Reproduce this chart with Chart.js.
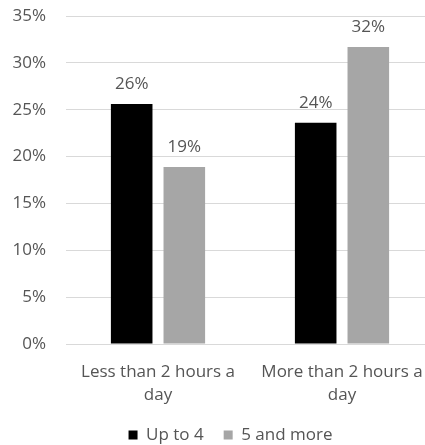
<!DOCTYPE html>
<html>
<head>
<meta charset="utf-8">
<script src="https://cdn.jsdelivr.net/npm/chart.js@4"></script>
<style>
  html, body { margin: 0; padding: 0; background: #ffffff; overflow: hidden; }
  #wrap { position: relative; width: 461px; height: 445px; }
</style>
</head>
<body>
<div id="wrap"><canvas id="chart" width="461" height="445"></canvas></div>
<script>
// Screen time per day, split by household size
const categories = [['Less than 2 hours a', 'day'], ['More than 2 hours a', 'day']];
const seriesNames = ['Up to 4', '5 and more'];
const upToFour = [25.6, 23.6];
const fiveAndMore = [18.9, 31.7];
const yTicks = [0, 5, 10, 15, 20, 25, 30, 35];

const textColor = '#555555';
const fontFamily = '"Open Sans", "Noto Sans", sans-serif';
const fontSize = 17;

// Percentage labels printed above each bar
const barValueLabels = {
  id: 'barValueLabels',
  afterDatasetsDraw(chart) {
    const ctx = chart.ctx;
    ctx.save();
    ctx.font = fontSize + 'px ' + fontFamily;
    ctx.fillStyle = textColor;
    ctx.textAlign = 'center';
    ctx.textBaseline = 'middle';
    chart.data.datasets.forEach((ds, i) => {
      chart.getDatasetMeta(i).data.forEach((bar, j) => {
        ctx.fillText(Math.round(ds.data[j]) + '%', bar.x, bar.y - 20);
      });
    });
    ctx.restore();
  }
};

// Centre the legend under the whole canvas rather than the padded box
const legendShift = {
  id: 'legendShift',
  afterLayout(chart) {
    const dx = 7.5;
    chart.legend.left += dx;
    chart.legend.right += dx;
  }
};

new Chart(document.getElementById('chart'), {
  type: 'bar',
  data: {
    labels: categories,
    datasets: [
      { label: seriesNames[0], data: upToFour, backgroundColor: '#000000',
        barPercentage: 0.79, categoryPercentage: 0.572 },
      { label: seriesNames[1], data: fiveAndMore, backgroundColor: '#a6a6a6',
        barPercentage: 0.79, categoryPercentage: 0.572 }
    ]
  },
  options: {
    responsive: false,
    animation: false,
    events: [],
    layout: { padding: { left: 12, right: 27, top: 16, bottom: -8.5 } },
    plugins: {
      tooltip: { enabled: false },
      legend: {
        position: 'bottom',
        labels: {
          color: textColor,
          font: { family: fontFamily, size: fontSize },
          boxWidth: 9,
          boxHeight: 9,
          padding: 20
        }
      }
    },
    scales: {
      x: {
        grid: { display: false },
        border: { display: false },
        ticks: {
          color: textColor,
          font: { family: fontFamily, size: fontSize, lineHeight: 1.35 },
          padding: 8.5,
          maxRotation: 0,
          autoSkip: false
        },
        afterFit(scale) {
          scale.height = 62.5;
          scale.paddingLeft = 0;
          scale.paddingRight = 0;
        }
      },
      y: {
        min: yTicks[0],
        max: yTicks[yTicks.length - 1],
        afterBuildTicks(scale) {
          scale.ticks = yTicks.map(v => ({ value: v }));
        },
        grid: { color: '#d9d9d9', lineWidth: 1, drawTicks: false },
        border: { display: false },
        ticks: {
          color: textColor,
          font: { family: fontFamily, size: fontSize },
          padding: 20,
          callback: v => v + '%'
        },
        afterFit(scale) {
          scale.width = 54;
          scale.paddingTop = 0;
          scale.paddingBottom = 0;
        }
      }
    }
  },
  plugins: [barValueLabels, legendShift]
});
</script>
</body>
</html>
